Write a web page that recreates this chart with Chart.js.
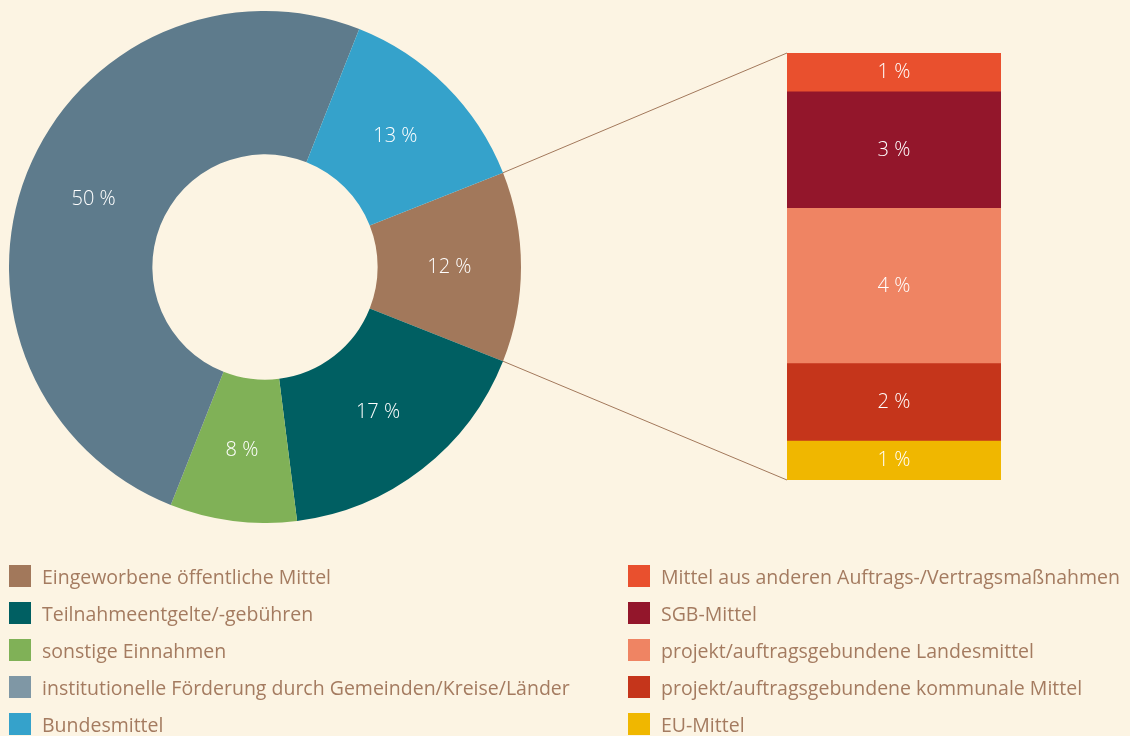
<!DOCTYPE html>
<html lang="de">
<head>
<meta charset="utf-8">
<script src="https://cdn.jsdelivr.net/npm/chart.js@4.4.1/dist/chart.umd.min.js"></script>
<style>
  html, body { margin: 0; padding: 0; background: #fcf4e3; }
  #wrap { position: relative; width: 1130px; height: 736px; overflow: hidden; font-family: "Open Sans", sans-serif; }
  #pieBox { position: absolute; left: 9px; top: 11px; width: 512px; height: 512px; }
  #barBox { position: absolute; left: 787px; top: 53px; width: 214px; height: 427px; }
  #lines { position: absolute; left: 0; top: 0; pointer-events: none; }
  .legend { position: absolute; top: 565px; margin: 0; padding: 0; list-style: none; }
  .legend li { height: 37px; display: flex; align-items: flex-start; color: #a47b60; font-size: 19.5px; white-space: nowrap; }
  .legend .sw { width: 22px; height: 22px; margin-right: 11px; flex: none; }
  .legend span.t { line-height: 23px; }
</style>
</head>
<body>
<div id="wrap">
  <div id="pieBox"><canvas id="pieChart"></canvas></div>
  <div id="barBox"><canvas id="barChart"></canvas></div>
  <canvas id="lines" width="1130" height="736"></canvas>
  <ul class="legend" id="legendLeft" style="left:9px"></ul>
  <ul class="legend" id="legendRight" style="left:628px"></ul>
</div>
<script>
// doughnut: clockwise starting with the brown slice at 3 o'clock
const pieLabels = ['Eingeworbene öffentliche Mittel', 'Teilnahmeentgelte/-gebühren', 'sonstige Einnahmen',
                   'institutionelle Förderung durch Gemeinden/Kreise/Länder', 'Bundesmittel'];
const pieValues = [12, 17, 8, 50, 13];
const pieColors = ['#a2785b', '#005f62', '#80b157', '#5e7b8c', '#35a2cb'];
const pieLegendColors = ['#a2785b', '#005f62', '#80b157', '#7f97a5', '#35a2cb'];

// breakdown of the brown slice, top to bottom
const barLabels = ['Mittel aus anderen Auftrags-/Vertragsmaßnahmen', 'SGB-Mittel', 'projekt/auftragsgebundene Landesmittel',
                   'projekt/auftragsgebundene kommunale Mittel', 'EU-Mittel'];
const barValues = [1, 3, 4, 2, 1];
const barColors = ['#e9502e', '#93162b', '#ef8463', '#c5351b', '#f0b700'];

const lineColor = '#a2785b';
const pct = v => v + ' %';

// white value labels in the middle of every arc / bar piece
const valueLabels = {
  id: 'valueLabels',
  afterDatasetsDraw(chart) {
    const ctx = chart.ctx;
    ctx.save();
    ctx.fillStyle = '#ffffff';
    ctx.font = '300 20px "Open Sans"';
    ctx.textAlign = 'center';
    ctx.textBaseline = 'middle';
    chart.data.datasets.forEach((ds, i) => {
      chart.getDatasetMeta(i).data.forEach((el, j) => {
        const p = el.getCenterPoint();
        ctx.fillText(pct(ds.data[j]), p.x, p.y);
      });
    });
    ctx.restore();
  }
};

const total = pieValues.reduce((a, b) => a + b, 0);
const pieChart = new Chart(document.getElementById('pieChart'), {
  type: 'doughnut',
  data: { labels: pieLabels, datasets: [{ data: pieValues, backgroundColor: pieColors, borderWidth: 0 }] },
  options: {
    responsive: true, maintainAspectRatio: false, animation: false,
    cutout: '44%',
    rotation: 90 - (pieValues[0] / total) * 180,
    layout: { padding: 0 },
    plugins: { legend: { display: false }, tooltip: { enabled: false } }
  },
  plugins: [valueLabels]
});

// stacked from the bottom, so reverse the top-to-bottom lists
const barDatasets = barValues.map((v, i) => ({
  label: barLabels[i], data: [v], backgroundColor: barColors[i], borderWidth: 0,
  barPercentage: 1, categoryPercentage: 1
})).reverse();

const barChart = new Chart(document.getElementById('barChart'), {
  type: 'bar',
  data: { labels: [''], datasets: barDatasets },
  options: {
    responsive: true, maintainAspectRatio: false, animation: false,
    layout: { padding: 0 },
    scales: {
      x: { stacked: true, display: false },
      y: { stacked: true, display: false, min: 0, max: barValues.reduce((a, b) => a + b, 0) }
    },
    plugins: { legend: { display: false }, tooltip: { enabled: false } }
  },
  plugins: [valueLabels]
});

// connector lines from the brown slice to the bar
function drawLines() {
  const pieBox = document.getElementById('pieBox');
  const barBox = document.getElementById('barBox');
  const arc = pieChart.getDatasetMeta(0).data[0];
  const ox = pieBox.offsetLeft + arc.x, oy = pieBox.offsetTop + arc.y;
  const r = arc.outerRadius;
  const a1 = { x: ox + r * Math.cos(arc.startAngle), y: oy + r * Math.sin(arc.startAngle) };
  const a2 = { x: ox + r * Math.cos(arc.endAngle), y: oy + r * Math.sin(arc.endAngle) };
  const ys = barChart.scales.y, xs = barChart.scales.x;
  const bx = barBox.offsetLeft + xs.left;
  const b1 = { x: bx, y: barBox.offsetTop + ys.getPixelForValue(ys.max) };
  const b2 = { x: bx, y: barBox.offsetTop + ys.getPixelForValue(0) };

  const ctx = document.getElementById('lines').getContext('2d');
  ctx.clearRect(0, 0, 1130, 736);
  ctx.strokeStyle = lineColor;
  ctx.lineWidth = 1;
  ctx.beginPath();
  ctx.moveTo(a1.x, a1.y); ctx.lineTo(b1.x, b1.y);
  ctx.moveTo(a2.x, a2.y); ctx.lineTo(b2.x, b2.y);
  ctx.stroke();
}
drawLines();

function buildLegend(id, labels, colors) {
  const ul = document.getElementById(id);
  labels.forEach((l, i) => {
    const li = document.createElement('li');
    li.innerHTML = `<div class="sw" style="background:${colors[i]}"></div><span class="t">${l}</span>`;
    ul.appendChild(li);
  });
}
buildLegend('legendLeft', pieLabels, pieLegendColors);
buildLegend('legendRight', barLabels, barColors);
</script>
</body>
</html>
